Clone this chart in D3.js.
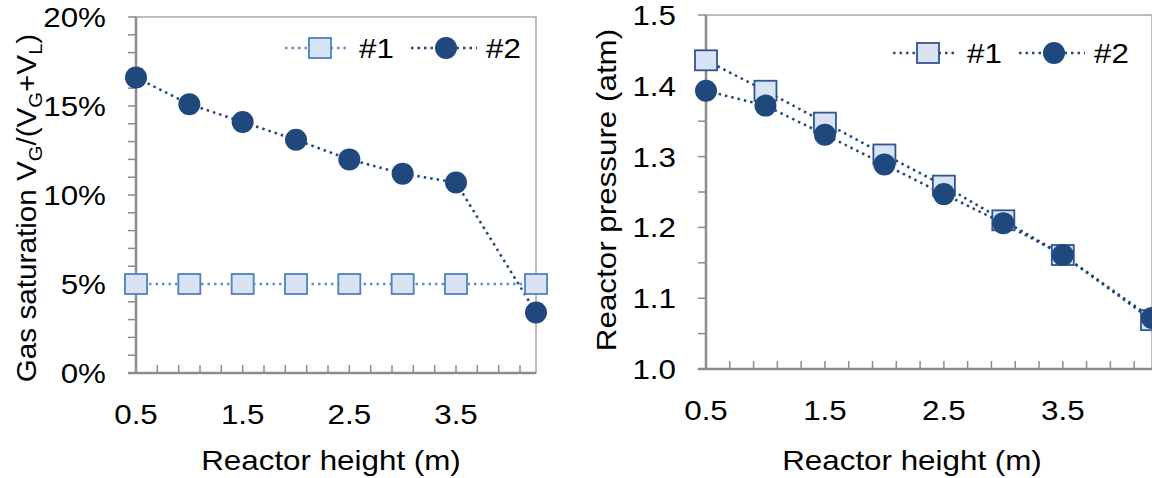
<!DOCTYPE html><html><head><meta charset="utf-8"><script src="https://cdn.jsdelivr.net/npm/d3@7"></script>
<style>body{margin:0;background:#fff}text{font-family:"Liberation Sans",Arial,sans-serif;fill:#000}</style></head><body>
<svg id="c" width="1152" height="478"></svg>
<script>
const heights=[0.5,1,1.5,2,2.5,3,3.5,4.25];
const xTickLabels=[0.5,1.5,2.5,3.5];
const satS1=[5,5,5,5,5,5,5,5];
const satS2=[16.6,15.1,14.1,13.1,12.0,11.2,10.7,3.4];
const satTicks=[0,5,10,15,20];
const presS1=[1.436,1.393,1.348,1.303,1.259,1.210,1.161,1.069];
const presS2=[1.393,1.372,1.331,1.289,1.247,1.206,1.161,1.072];
const presTicks=[1.0,1.1,1.2,1.3,1.4,1.5];
const svg=d3.select("#c");
const grey="#8c8c8c", dark="#1f497d", FS=28, SX=1.12;
function txt(g,x,y,s,anchor){
  return g.append("text").attr("transform",`translate(${x},${y}) scale(${SX},1)`).attr("text-anchor",anchor||"start").attr("font-size",FS).text(s);
}
function panel(o){
  const x=d3.scaleLinear().domain([0.5,4.25]).range([o.l,o.r]);
  const y=d3.scaleLinear().domain(o.yd).range([o.b,o.t]);
  const g=svg.append("g");
  g.append("rect").attr("x",o.l).attr("y",o.t).attr("width",o.r-o.l).attr("height",o.b-o.t).attr("fill","none").attr("stroke","#a6a6a6").attr("stroke-width",1.5);
  g.append("line").attr("x1",o.l).attr("x2",o.l).attr("y1",o.t).attr("y2",o.b).attr("stroke",grey).attr("stroke-width",2.5);
  g.append("line").attr("x1",o.l-8).attr("x2",o.r).attr("y1",o.b).attr("y2",o.b).attr("stroke",grey).attr("stroke-width",2.5);
  d3.range(o.yd[0],o.yd[1]+1e-9,o.minorY).forEach(v=>g.append("line").attr("x1",o.l-8).attr("x2",o.l).attr("y1",y(v)).attr("y2",y(v)).attr("stroke",grey).attr("stroke-width",1.5));
  d3.range(0.5,4.25,0.2).forEach(v=>g.append("line").attr("x1",x(v)).attr("x2",x(v)).attr("y1",o.b).attr("y2",o.b-8).attr("stroke",grey).attr("stroke-width",1.5));
  o.ticks.forEach(v=>txt(g,o.l-30,y(v)+10,o.fmt(v),"end"));
  xTickLabels.forEach(v=>txt(g,x(v),o.b+51,v.toFixed(1),"middle"));
  txt(g,(o.l+o.r)/2+(o.xlShift||0),470,"Reactor height (m)","middle");
  const line=d3.line().x((d,i)=>x(heights[i])).y(d=>y(d));
  g.append("path").attr("d",line(o.s1)).attr("fill","none").attr("stroke",o.l1c).attr("stroke-width",2.5).attr("stroke-dasharray","2.5,4");
  g.append("path").attr("d",line(o.s2)).attr("fill","none").attr("stroke",dark).attr("stroke-width",2.5).attr("stroke-dasharray","2.5,4");
  o.s1.forEach((d,i)=>g.append("rect").attr("x",x(heights[i])-11).attr("y",y(d)-10).attr("width",22).attr("height",20).attr("fill","#dae3f3").attr("stroke",o.sqc).attr("stroke-width",1.8));
  o.s2.forEach((d,i)=>g.append("circle").attr("cx",x(heights[i])).attr("cy",y(d)).attr("r",11).attr("fill",dark));
  const L=o.leg;
  g.append("line").attr("x1",L.x).attr("x2",L.x+64).attr("y1",L.y).attr("y2",L.y).attr("stroke",o.l1c).attr("stroke-width",2.5).attr("stroke-dasharray","2.5,4");
  g.append("rect").attr("x",L.x+35-11).attr("y",L.y-10).attr("width",22).attr("height",20).attr("fill","#dae3f3").attr("stroke",o.sqc).attr("stroke-width",1.8);
  txt(g,L.x+74,L.y+10,"#1");
  g.append("line").attr("x1",L.x+126).attr("x2",L.x+192).attr("y1",L.y).attr("y2",L.y).attr("stroke",dark).attr("stroke-width",2.5).attr("stroke-dasharray","2.5,4");
  g.append("circle").attr("cx",L.x+161).attr("cy",L.y).attr("r",11).attr("fill",dark);
  txt(g,L.x+201,L.y+10,"#2");
  return g;
}
panel({l:136,r:536,t:17,b:373,yd:[0,20],minorY:1,ticks:satTicks,fmt:v=>v+"%",s1:satS1,s2:satS2,l1c:"#5b8fd0",sqc:"#4f81bd",leg:{x:285,y:48},xlShift:-5});
panel({l:706,r:1152,t:15,b:369,yd:[1.0,1.5],minorY:0.05,ticks:presTicks,fmt:v=>v.toFixed(1),s1:presS1,s2:presS2,l1c:dark,sqc:"#2f5597",leg:{x:893,y:53},xlShift:-17});
const t1=svg.append("text").attr("transform",`translate(36,208) rotate(-90) scale(1.06,1)`).attr("text-anchor","middle").attr("font-size",FS);
t1.append("tspan").text("Gas saturation V");
t1.append("tspan").attr("font-size",19).attr("dy",6).text("G");
t1.append("tspan").attr("dy",-6).text("/(V");
t1.append("tspan").attr("font-size",19).attr("dy",6).text("G");
t1.append("tspan").attr("dy",-6).text("+V");
t1.append("tspan").attr("font-size",19).attr("dy",6).text("L");
t1.append("tspan").attr("dy",-6).text(")");
svg.append("text").attr("transform",`translate(616,190) rotate(-90) scale(${SX},1)`).attr("text-anchor","middle").attr("font-size",FS).text("Reactor pressure (atm)");
</script></body></html>
